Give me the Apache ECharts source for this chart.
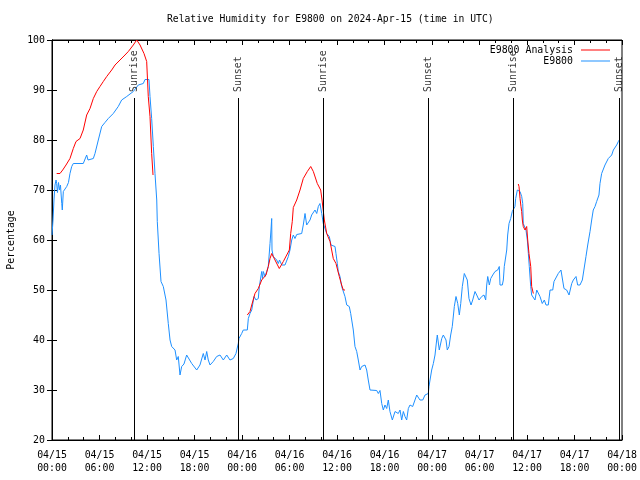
<!DOCTYPE html>
<html><head><meta charset="utf-8">
<script src="https://cdn.jsdelivr.net/npm/echarts@6/dist/echarts.min.js"></script>
<style>html,body{margin:0;padding:0;background:#fff}#c{width:640px;height:480px}</style>
</head><body><div id="c"></div>
<script>
// hours since 2024-04-15 00:00 UTC
const obsTimes = [0,0.13,0.25,0.38,0.51,0.59,0.69,0.82,0.95,1.07,1.23,1.30,1.43,1.64,1.86,2.08,2.27,2.49,2.69,3.95,4.17,4.38,4.55,4.80,5.22,5.43,5.85,6.28,6.69,7.11,7.74,8.37,8.80,9.44,10.27,10.90,11.53,11.75,12.25,12.38,12.59,12.80,13.01,13.23,13.30,13.52,13.77,14.06,14.40,14.69,14.91,15.12,15.54,15.75,15.95,16.17,16.38,16.67,17.01,17.24,17.65,18.28,18.69,19.11,19.33,19.54,19.74,19.96,20.37,20.80,21.22,21.64,22.07,22.48,22.90,23.24,23.53,23.62,23.96,24.16,24.67,24.80,25.01,25.23,25.52,25.77,26.06,26.19,26.49,26.59,26.69,26.91,27.12,27.32,27.54,27.66,27.75,27.79,27.95,28.38,28.59,28.74,29.02,29.43,29.85,30.06,30.28,30.48,30.69,30.91,31.54,31.74,31.96,32.17,32.38,32.59,32.80,33.01,33.22,33.44,33.64,33.85,34.07,34.27,34.48,34.70,35.03,35.24,35.75,35.87,36.04,36.16,36.38,36.59,37.01,37.23,37.55,37.73,38.06,38.27,38.49,38.69,38.91,39.12,39.54,39.75,39.95,40.17,41.02,41.22,41.43,41.65,41.85,42.06,42.28,42.48,42.69,42.99,43.33,43.74,43.96,44.17,44.38,44.59,44.80,45.01,45.22,45.56,45.85,46.07,46.48,46.83,47.12,47.53,47.62,47.75,47.96,48.17,48.38,48.59,48.67,48.92,49.23,49.43,49.77,49.93,50.15,50.36,50.56,50.82,51.03,51.25,51.45,51.63,51.83,52.08,52.26,52.46,52.67,52.93,53.14,53.43,53.65,53.94,54.28,54.57,54.78,54.91,55.04,55.24,55.42,55.67,55.96,56.30,56.50,56.59,56.88,57.01,57.13,57.35,57.44,57.56,57.73,57.94,58.14,58.27,58.48,58.57,58.78,58.99,59.12,59.33,59.46,59.53,59.87,60.04,60.17,60.29,60.47,60.59,60.80,61.01,61.23,61.43,61.64,61.93,62.19,62.40,62.69,62.91,63.25,63.41,63.66,63.95,64.29,64.51,64.67,65.01,65.31,65.65,65.85,66.19,66.40,66.69,66.99,67.24,67.45,67.67,67.96,68.17,68.37,68.59,68.80,68.90,69.09,69.22,69.43,69.85,70.27,70.70,70.91,71.33,71.54,71.66];
const obsValues = [61,64,68,71,72,71.3,69.5,71.5,70,71,67.3,66,69.7,69.5,70.7,71.5,73.3,74.7,75.3,75.3,75.5,77,76,75.7,76.3,77.3,80,82.7,83.5,84.3,85.3,86.7,88,88.7,89.7,91,91.3,92.1,92.1,88.7,84.3,78.7,73.3,68,63.7,57.3,51.7,50.7,48,43.3,40,38.7,38,36,36.7,33,34.7,35.2,37,36.8,35.3,34,35,37.3,36,37.7,36,35,35.7,36.7,37,36,37,36,36.3,37.3,39.3,40.3,41.3,42,42,44.3,45.3,46,48.7,48,48.3,50.7,53.7,52.3,53.7,52.7,53.7,54.7,59.3,62,64.3,58,56.7,56,55.3,56,55,55,56.7,58,60,61,60.3,61.1,61.3,63,65.3,63,63.3,64,65,65.3,66,65.3,66.7,67.3,65.3,63.3,63,61.3,60.7,59,58.7,57.3,55.3,53.7,52.7,50.7,48.7,47,46.7,45.3,42,38.7,37.7,36,34,34.7,35,34,32,30,29.9,29.3,29.9,27.3,26,27,26.3,28,25.7,24,25.7,25.3,26,24,25.7,24.7,24,26.3,27,26.7,28,29,28,28,29,29.3,30.7,32,34,35.3,37,40,41,38,40.3,41,40,38,38.7,41,42.7,46.7,48.7,47.3,45,47.3,50.7,53.3,53.7,52,48.3,47,48,49.7,49,48,48.7,49,48,51,52.7,51,52.3,53,53.7,54,54.7,51,51,52,54.7,55,58,61,63.3,64.3,65.7,66.1,66.7,68.3,70,70.1,69.7,68.7,67.3,63.3,62,60,57.3,54.7,50.7,49,49,48,50,50,48.7,47.3,48,47,47,50,50,51.7,52,53.3,54,54,50.3,50,49,51.3,52,52.7,51,51,52,52.3,56.7,59,61.7,64,66,66.7,67.7,67.5,69,71.3,73.3,75,76.3,77,78,79,79.7,80];
const anaTimes = [0.59,1.01,1.35,1.77,2.27,2.69,3.03,3.54,3.95,4.38,4.80,5.22,5.65,6.06,6.48,6.91,7.54,7.96,8.59,9.22,9.64,10.27,10.70,11.12,11.62,11.87,11.96,12.16,12.38,12.59,12.72,12.76,18.0,24.67,25.01,25.23,25.64,26.06,26.49,27.03,27.32,27.54,27.75,28.17,28.71,29.22,29.65,29.98,30.15,30.35,30.48,30.91,31.33,31.74,32.25,32.68,33.01,33.51,33.94,34.11,34.40,34.70,35.12,35.53,35.87,36.04,36.29,36.59,36.80,37.01,48.0,58.90,58.99,59.12,59.24,59.33,59.41,59.53,59.75,59.96,60.09,60.25,60.47,60.59,60.69,60.80];
const anaValues = [73.3,73.3,74,75,76.3,78.3,79.7,80.3,82,85,86.3,88.3,89.7,90.7,91.7,92.7,94,95,96,97,97.7,99,100,99,97.3,97,95.7,88.7,84.7,77.3,74,73,null,45,45.7,47,49.3,50.3,52,53,54.7,56.3,57.3,56,54.3,55.7,57,58,61.3,63.7,66.5,68,70,72.3,73.7,74.7,73.7,71.3,70,68,64,61.3,59.7,56.3,55.3,55,52.7,51,50,50,null,71.2,70.7,68.3,66.7,65.7,64,62.7,62,62.7,60,57.3,54.7,50.7,50.3,49.3];
const sunTimes = [10.40,23.53,34.27,47.53,58.27,71.62];
const sunLabels = ['Sunrise','Sunset','Sunrise','Sunset','Sunrise','Sunset'];
const yTicks = [20,30,40,50,60,70,80,90,100];
const seriesNames = ['E9800 Analysis','E9800'];
const titleText = 'Relative Humidity for E9800 on 2024-Apr-15 (time in UTC)';

const FONT = 'DejaVu Sans Mono';
const FS = 9.9;
const obsData = obsTimes.map((t,i)=>[t,obsValues[i]]);
const anaData = anaTimes.map((t,i)=>[t,anaValues[i]===null?'-':anaValues[i]]);
const LINE_TOP = 88.4, LABEL_Y = 89.6;

function fmtX(h){
  const day = 15 + Math.floor(h/24);
  const hh = Math.round(h % 24);
  return '04/' + day + '\n' + String(hh).padStart(2,'0') + ':00';
}

const chart = echarts.init(document.getElementById('c'), null, {renderer:'canvas'});
const tickCommon = {inside:true, length:5, lineStyle:{color:'#000',width:1}};
const minorCommon = {show:true, splitNumber:3, length:3, lineStyle:{color:'#000',width:1}};
chart.setOption({
  animation:false,
  backgroundColor:'#fff',
  textStyle:{fontFamily:FONT, fontSize:FS, color:'#000'},
  title:{text:titleText, left:167, top:14, padding:0, textStyle:{fontFamily:FONT, fontSize:9.7, fontWeight:'normal', color:'#000'}},
  grid:{left:52, right:18, top:40, bottom:40, outerBoundsMode:'none', containLabel:false, show:true, borderColor:'#000', borderWidth:1, backgroundColor:'transparent'},
  legend:{data:seriesNames, orient:'vertical', right:30, top:45, padding:0, align:'right', icon:'rect', itemWidth:29, itemHeight:1, itemGap:1,
    textStyle:{fontFamily:FONT, fontSize:FS, color:'#000', lineHeight:10, padding:[0,3,0,0]}},
  xAxis:[
    {type:'value', min:0, max:72, interval:6, position:'bottom',
      axisLine:{show:true,lineStyle:{color:'#000'}}, axisTick:tickCommon, minorTick:minorCommon,
      splitLine:{show:false}, axisLabel:{formatter:fmtX, color:'#000', fontFamily:FONT, fontSize:FS, margin:8.5, lineHeight:13.5}},
    {type:'value', min:0, max:72, interval:6, position:'top',
      axisLine:{show:true,lineStyle:{color:'#000'}}, axisTick:tickCommon, minorTick:minorCommon,
      splitLine:{show:false}, axisLabel:{show:false}}
  ],
  yAxis:[
    {type:'value', min:yTicks[0], max:yTicks[yTicks.length-1], interval:10, position:'left',
      name:'Percentage', nameLocation:'middle', nameGap:36, nameRotate:90,
      nameTextStyle:{fontFamily:FONT, fontSize:FS, color:'#000'},
      axisLine:{show:true,lineStyle:{color:'#000'}}, axisTick:tickCommon, splitLine:{show:false},
      axisLabel:{color:'#000', fontFamily:FONT, fontSize:FS, margin:7}},
    {type:'value', min:yTicks[0], max:yTicks[yTicks.length-1], interval:10, position:'right',
      axisLine:{show:true,lineStyle:{color:'#000'}}, axisTick:tickCommon, splitLine:{show:false},
      axisLabel:{show:false}}
  ],
  series:[
    {name:'E9800 Analysis', type:'line', data:anaData, showSymbol:false, symbol:'none', connectNulls:false,
      lineStyle:{color:'#ff0000', width:1}, itemStyle:{color:'#ff0000'}, z:4},
    {name:'E9800', type:'line', data:obsData, showSymbol:false, symbol:'none',
      lineStyle:{color:'#1e90ff', width:1}, itemStyle:{color:'#1e90ff'}, z:3,
      markLine:{silent:true, symbol:['none','none'], animation:false,
        lineStyle:{color:'#000', width:1, type:'solid'}, label:{show:false},
        data: sunTimes.map(t=>[{coord:[t,yTicks[0]]},{coord:[t,LINE_TOP]}])}},
    {name:'sun', type:'scatter', data:sunTimes.map((t,i)=>({value:[t,LABEL_Y], name:sunLabels[i]})),
      symbolSize:0, silent:true, z:5,
      label:{show:true, formatter:p=>p.name, rotate:90, position:'inside', align:'left', verticalAlign:'middle',
        fontFamily:FONT, fontSize:FS, color:'#000'}}
  ]
});
</script></body></html>
